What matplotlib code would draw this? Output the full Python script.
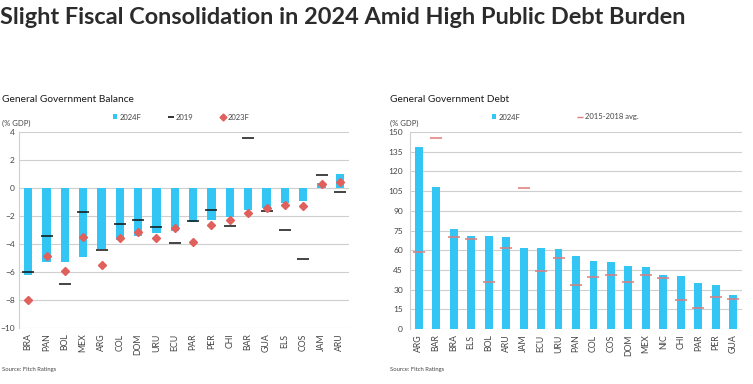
import matplotlib
matplotlib.use("Agg")
import matplotlib.pyplot as plt
from matplotlib.lines import Line2D
from matplotlib.patches import Patch

plt.rcParams['font.family'] = ['Lato', 'DejaVu Sans']

# ---- Data: General Government Balance (% GDP)
bal_countries = ["BRA", "PAN", "BOL", "MEX", "ARG", "COL", "DOM", "URU", "ECU",
                 "PAR", "PER", "CHI", "BAR", "GUA", "ELS", "COS", "JAM", "ARU"]
bal_2024f = [-6.2, -5.3, -5.25, -4.95, -4.35, -3.7, -3.45, -3.2, -3.1,
             -2.4, -2.25, -2.05, -1.6, -1.45, -1.05, -0.95, 0.33, 1.0]
bal_2019 = [-6.0, -3.45, -6.85, -1.7, -4.4, -2.55, -2.3, -2.75, -3.95,
            -2.35, -1.6, -2.7, 3.6, -1.65, -3.0, -5.05, 0.95, -0.3]
bal_2023f = [-8.0, -4.85, -5.95, -3.5, -5.5, -3.6, -3.15, -3.6, -2.85,
             -3.85, -2.65, -2.25, -1.75, -1.45, -1.2, -1.25, 0.3, 0.43]
bal_yticks = [4, 2, 0, -2, -4, -6, -8, -10]

# ---- Data: General Government Debt (% GDP)
debt_countries = ["ARG", "BAR", "BRA", "ELS", "BOL", "ARU", "JAM", "ECU", "URU", "PAN",
                  "COL", "COS", "DOM", "MEX", "NIC", "CHI", "PAR", "PER", "GUA"]
debt_2024f = [138.3, 108.5, 76.0, 70.5, 70.5, 70.0, 62.0, 62.0, 61.2, 55.8,
              51.8, 51.2, 48.0, 47.0, 41.0, 40.0, 34.8, 33.3, 25.8]
debt_avg = [59.0, 145.7, 70.3, 68.3, 36.0, 61.5, 107.0, 44.0, 53.8, 33.8,
            39.5, 40.8, 36.0, 41.0, 39.0, 21.8, 16.0, 24.3, 23.0]
debt_yticks = [0, 15, 30, 45, 60, 75, 90, 105, 120, 135, 150]

BAR_C = "#33c6f4"
RED_C = "#e0605c"
AVG_C = "#e07b7b"
GRID = "#cfcfcf"

fig = plt.figure(figsize=(7.53, 3.84), dpi=100)
W, H = 753, 384

def ax_rect(x0, x1, ytop, ybot):
    return [x0 / W, 1 - ybot / H, (x1 - x0) / W, (ybot - ytop) / H]

def style(ax, ypad):
    ax.set_facecolor("white")
    for s in ["top", "right"]:
        ax.spines[s].set_visible(False)
    ax.spines["left"].set_color(GRID)
    ax.spines["bottom"].set_visible(False)
    ax.yaxis.grid(True, color=GRID, linewidth=0.8)
    ax.set_axisbelow(True)
    ax.tick_params(axis="y", length=0, labelsize=6, labelcolor="#444444", pad=ypad)
    ax.tick_params(axis="x", length=0, labelsize=6.3, labelcolor="#444444",
                   rotation=90, pad=4)

# ---- Left chart
ax1 = fig.add_axes(ax_rect(19, 349, 132, 328))
style(ax1, 3)
x1 = list(range(len(bal_countries)))
ax1.bar(x1, bal_2024f, width=0.45, color=BAR_C, zorder=2)
ax1.plot(x1, bal_2019, linestyle="none", marker="_", markersize=8,
         markeredgewidth=1.1, color="#111111", zorder=3)
ax1.plot(x1, bal_2023f, linestyle="none", marker="D", markersize=4.2,
         color=RED_C, zorder=4)
ax1.set_xlim(-0.5, len(bal_countries) - 0.5)
ax1.set_ylim(-10, 4)
ax1.set_yticks(bal_yticks)
ax1.set_xticks(x1)
ax1.set_xticklabels(bal_countries)

# ---- Right chart
ax2 = fig.add_axes(ax_rect(410, 742, 132, 329))
style(ax2, 5)
x2 = list(range(len(debt_countries)))
ax2.bar(x2, debt_2024f, width=0.45, color=BAR_C, zorder=2)
ax2.plot(x2, debt_avg, linestyle="none", marker="_", markersize=8,
         markeredgewidth=1.1, color=AVG_C, zorder=3)
ax2.set_xlim(-0.5, len(debt_countries) - 0.5)
ax2.set_ylim(0, 150)
ax2.set_yticks(debt_yticks)
ax2.set_xticks(x2)
ax2.set_xticklabels(debt_countries)

# ---- Titles and texts
fig.text(0, 1 - 18 / H, "Slight Fiscal Consolidation in 2024 Amid High Public Debt Burden",
         fontsize=16.9, fontweight="bold", color="#2b2b2b", va="center", ha="left")
fig.text(2 / W, 1 - 100 / H, "General Government Balance", fontsize=7.3,
         color="#1a1a1a", va="center", ha="left")
fig.text(390 / W, 1 - 100 / H, "General Government Debt", fontsize=7.3,
         color="#1a1a1a", va="center", ha="left")
fig.text(2 / W, 1 - 123 / H, "(% GDP)", fontsize=5.5, color="#444444", va="center")
fig.text(390 / W, 1 - 123 / H, "(% GDP)", fontsize=5.5, color="#444444", va="center")
fig.text(2 / W, 1 - 370 / H, "Source: Fitch Ratings", fontsize=4.2, color="#444444", va="center")
fig.text(390 / W, 1 - 370 / H, "Source: Fitch Ratings", fontsize=4.2, color="#444444", va="center")

# ---- Legends
h1 = [Patch(facecolor=BAR_C, edgecolor="none"),
      Line2D([], [], linestyle="none", marker="_", markersize=5, markeredgewidth=1.2, color="#111111"),
      Line2D([], [], linestyle="none", marker="D", markersize=3.5, color=RED_C)]
fig.legend(h1, ["2024F", "2019", "2023F"], loc="center left",
           bbox_to_anchor=(106 / W, 1 - 117 / H), ncol=3, frameon=False,
           fontsize=5.5, handlelength=0.6, handleheight=0.6, handletextpad=0.3,
           columnspacing=3.6, labelcolor="#444444")
h2 = [Patch(facecolor=BAR_C, edgecolor="none"),
      Line2D([], [], linestyle="none", marker="_", markersize=5, markeredgewidth=1.0, color=AVG_C)]
fig.legend(h2, ["2024F", "2015-2018 avg."], loc="center left",
           bbox_to_anchor=(485 / W, 1 - 117 / H), ncol=2, frameon=False,
           fontsize=5.5, handlelength=0.6, handleheight=0.6, handletextpad=0.3,
           columnspacing=7.5, labelcolor="#444444")

fig.savefig("out.png", dpi=100, facecolor="white")
